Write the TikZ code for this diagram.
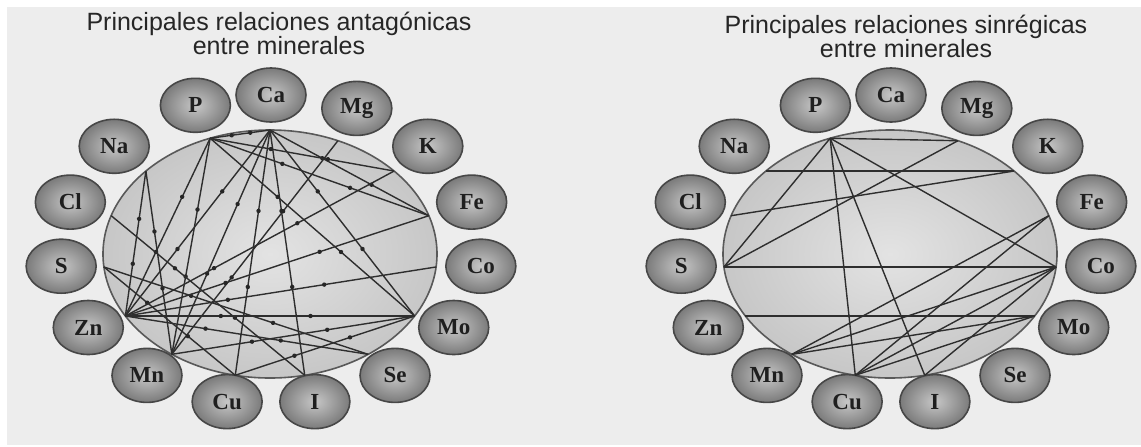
\documentclass[tikz,border=0pt]{standalone}
\usepackage{fontspec}
\setmainfont{Liberation Sans}
\newfontfamily\elemfont{Liberation Serif}
\usetikzlibrary{calc, shapes.geometric, decorations.markings}

\tikzset{
  elem/.style={ellipse, draw=black!72, line width=0.8pt, inner color=black!22, outer color=black!52,
    minimum width=35pt, minimum height=27pt, inner sep=0pt, text=black!88,
    font=\elemfont\bfseries\fontsize{11.5}{11.5}\selectfont},
  disk/.style={draw=black!65, line width=0.8pt, inner color=black!11, outer color=black!22},
  anta/.style={draw=black!82, line width=0.7pt, postaction={decorate},
    decoration={markings,
      mark=at position 0.33 with {\fill[black!85] circle (1.1pt);},
      mark=at position 0.64 with {\fill[black!85] circle (1.1pt);}}},
  sinr/.style={draw=black!82, line width=0.7pt},
  titulo/.style={align=center, font=\fontsize{12.5}{12}\selectfont, text=black!85}
}

\begin{document}
\begin{tikzpicture}[x=0.5pt, y=-0.5pt]
  \useasboundingbox (0,0) rectangle (1141,446);
  \fill[black!7] (7,7) rectangle (1141,445);

  % titles
  \node[titulo] (tant) at (279,33) {Principales relaciones antagónicas\\entre minerales};
  \node[titulo] (tsin) at (906,36) {Principales relaciones sinrégicas\\entre minerales};

  % the two disks
  \coordinate (actr) at (270,254);
  \coordinate (sctr) at (890,254);
  \draw[disk] (actr) ellipse [x radius=167, y radius=124];
  \draw[disk] (sctr) ellipse [x radius=167, y radius=124];

  % minerals round each disk
  \foreach \el/\ang in {Ca/-90, Mg/-66, K/-42, Fe/-18, Co/6, Mo/30, Se/54, I/78,
                        Cu/102, Mn/126, Zn/150, S/174, Cl/198, Na/222, P/249} {
    \node[elem] (a\el) at ($(actr)+(1,-4)+(\ang:211 and 155)$) {\el};
    \coordinate (a\el p) at ($(actr)+(\ang:167 and 124)$);
    \node[elem] (s\el) at ($(sctr)+(1,-4)+(\ang:211 and 155)$) {\el};
    \coordinate (s\el p) at ($(sctr)+(\ang:167 and 124)$);
  }

  % antagonic relations
  \foreach \u/\v in {Ca/Zn, Ca/Mn, Ca/Cu, Ca/I, Ca/Fe, Ca/P, Ca/Mo, P/Mn, P/Zn, P/Mo,
                     P/Fe, P/K, Mg/Mn, Na/Zn, Na/Mn, Cl/I, S/Cu, S/Se, Zn/Mo, Zn/Co,
                     Zn/Fe, Zn/K, Zn/Se, Mn/Mo, Cu/Mo}
    \draw[anta] (a\u p) -- (a\v p);

  % synergic relations
  \foreach \u/\v in {P/S, P/Cu, P/I, P/Co, P/Mg, Na/K, Cl/K, S/Mg, S/Co, Zn/Mo,
                     Mn/Fe, Mn/Co, Mn/Mo, Cu/Fe, Cu/Co, I/Co, Cu/Mo}
    \draw[sinr] (s\u p) -- (s\v p);
\end{tikzpicture}
\end{document}
